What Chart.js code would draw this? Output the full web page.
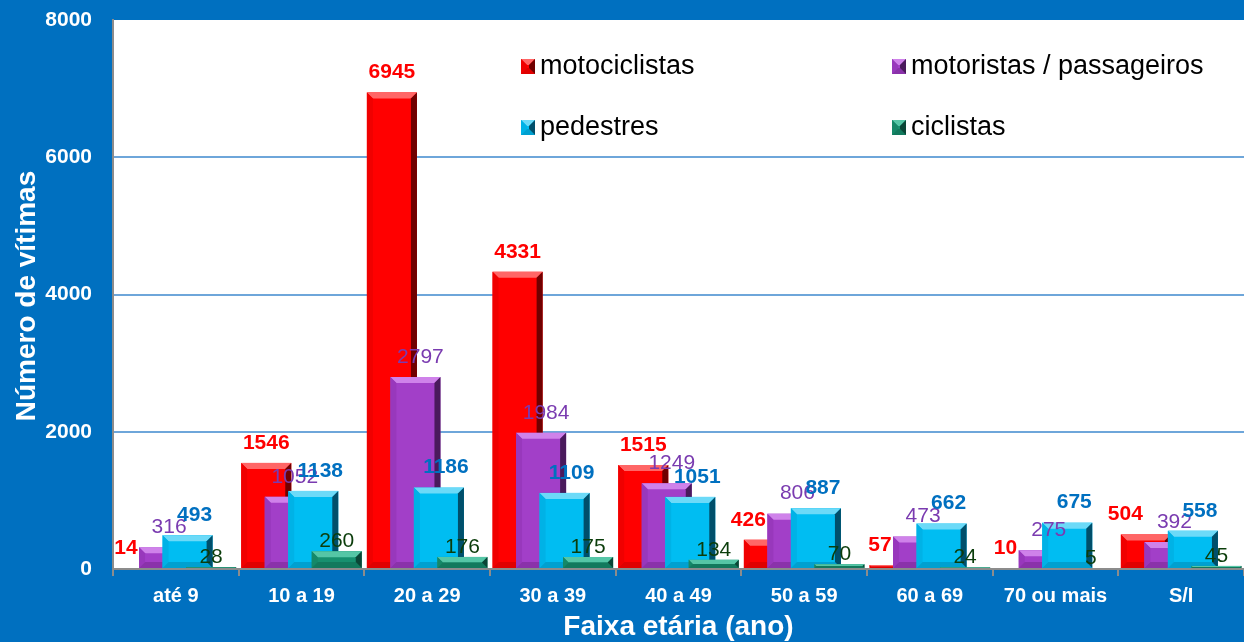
<!DOCTYPE html>
<html>
<head>
<meta charset="utf-8">
<script src="https://cdn.jsdelivr.net/npm/chart.js@4/dist/chart.umd.min.js"></script>
<style>
  html, body { margin: 0; padding: 0; background: #0070C0; }
  canvas { display: block; }
</style>
</head>
<body>
<canvas id="vitimasChart" width="1244" height="642"></canvas>
<script>
const ageGroups = ['até 9', '10 a 19', '20 a 29', '30 a 39', '40 a 49', '50 a 59', '60 a 69', '70 ou mais', 'S/I'];
const motociclistas = [14, 1546, 6945, 4331, 1515, 426, 57, 10, 504];
const motoristas = [316, 1052, 2797, 1984, 1249, 806, 473, 275, 392];
const pedestres = [493, 1138, 1186, 1109, 1051, 887, 662, 675, 558];
const ciclistas = [28, 260, 176, 175, 134, 70, 24, 5, 45];
const yTicks = [0, 2000, 4000, 6000, 8000];

const FONT = '"Liberation Sans", Arial, sans-serif';

// face, top highlight, right shadow, left edge, bottom edge
const palette = [
  { main: '#FF0000', light: '#FF6666', dark: '#700000', left: '#F00000', bottom: '#E00000', text: '#FF0000', bold: true },
  { main: '#A23FC8', light: '#CF82EA', dark: '#4A1A5C', left: '#9838BC', bottom: '#8A32AA', text: '#7A3BB0', bold: false },
  { main: '#00BDF2', light: '#6CDAF8', dark: '#004F6B', left: '#00B2E6', bottom: '#00A0D0', text: '#0070C0', bold: true },
  { main: '#17906F', light: '#55C6A6', dark: '#0A4536', left: '#158868', bottom: '#12795D', text: '#0B3D0B', bold: false }
];

function poly(ctx, pts, color) {
  ctx.beginPath();
  ctx.moveTo(pts[0][0], pts[0][1]);
  for (let i = 1; i < pts.length; i++) ctx.lineTo(pts[i][0], pts[i][1]);
  ctx.closePath();
  ctx.fillStyle = color;
  ctx.fill();
}

function bevelRect(ctx, left, top, w, h, c) {
  if (h <= 0) return;
  const b = Math.min(6, h / 2, w / 2);
  const r = left + w, bt = top + h;
  ctx.fillStyle = c.main;
  ctx.fillRect(left, top, w, h);
  poly(ctx, [[left, top], [r, top], [r - b, top + b], [left + b, top + b]], c.light);
  poly(ctx, [[left, top], [left + b, top + b], [left + b, bt - b], [left, bt]], c.left);
  poly(ctx, [[left, bt], [left + b, bt - b], [r - b, bt - b], [r, bt]], c.bottom);
  poly(ctx, [[r, top], [r, bt], [r - b, bt - b], [r - b, top + b]], c.dark);
}

const bevelBars = {
  id: 'bevelBars',
  beforeDraw(chart) {
    const { ctx, chartArea: a } = chart;
    ctx.save();
    ctx.fillStyle = '#0070C0';
    ctx.fillRect(0, 0, chart.width, chart.height);
    ctx.fillStyle = '#FFFFFF';
    ctx.fillRect(a.left, a.top, a.right - a.left, a.bottom - a.top);
    ctx.restore();
  },
  beforeDatasetsDraw(chart) {
    const ctx = chart.ctx;
    ctx.save();
    // first series at the back, last series in front
    chart.data.datasets.forEach((ds, i) => {
      chart.getDatasetMeta(i).data.forEach(bar => {
        bevelRect(ctx, bar.x - bar.width / 2, bar.y, bar.width, bar.base - bar.y, palette[i]);
      });
    });
    ctx.restore();
    return false;
  },
  afterDraw(chart) {
    const ctx = chart.ctx;
    const a = chart.chartArea;
    ctx.save();

    // value labels
    chart.data.datasets.forEach((ds, i) => {
      const c = palette[i];
      ctx.font = (c.bold ? 'bold ' : '') + '21px ' + FONT;
      ctx.fillStyle = c.text;
      ctx.textBaseline = 'middle';
      chart.getDatasetMeta(i).data.forEach((bar, j) => {
        const v = ds.data[j];
        let x = bar.x, y = bar.y - 20;
        ctx.textAlign = 'center';
        if (i === 0 && v < 600) {
          ctx.textAlign = 'right';
          x = bar.x - bar.width / 2 + 22;
        }
        if (i === 1) x += 5;
        if (i === 2) x += 7;
        if (i === 3) y = bar.y - 10;
        ctx.fillText(String(v), x, y);
      });
    });

    // legend inside the plot
    const legendPos = [[521, 66], [892, 66], [521, 127], [892, 127]];
    ctx.font = '27px ' + FONT;
    ctx.textAlign = 'left';
    ctx.textBaseline = 'middle';
    chart.data.datasets.forEach((ds, i) => {
      const [lx, ly] = legendPos[i];
      bevelRect(ctx, lx, ly - 7, 14, 15, palette[i]);
      ctx.fillStyle = '#000000';
      ctx.fillText(ds.label, lx + 19, ly + 1);
    });

    // axis titles
    ctx.fillStyle = '#FFFFFF';
    ctx.font = 'bold 28px ' + FONT;
    ctx.textAlign = 'center';
    ctx.textBaseline = 'middle';
    ctx.fillText('Faixa etária (ano)', (a.left + a.right) / 2, 627);
    ctx.translate(27, 296);
    ctx.rotate(-Math.PI / 2);
    ctx.fillText('Número de vítimas', 0, 0);
    ctx.restore();
  }
};

function createChart() {
  const ctx = document.getElementById('vitimasChart').getContext('2d');
  const series = [
    ['motociclistas', motociclistas],
    ['motoristas / passageiros', motoristas],
    ['pedestres', pedestres],
    ['ciclistas', ciclistas]
  ];
  new Chart(ctx, {
    type: 'bar',
    data: {
      labels: ageGroups,
      datasets: series.map(([label, data], i) => ({
        label: label,
        data: data,
        backgroundColor: palette[i].main,
        categoryPercentage: 0.748,
        barPercentage: 2.13
      }))
    },
    options: {
      responsive: false,
      devicePixelRatio: 1,
      animation: false,
      layout: { padding: { top: 20, right: 0, left: 0, bottom: 0 } },
      plugins: {
        legend: { display: false },
        tooltip: { enabled: false }
      },
      scales: {
        x: {
          afterFit: scale => { scale.height = 73; scale.paddingLeft = 0; scale.paddingRight = 0; },
          border: { color: '#8C8C8C', width: 2 },
          grid: {
            drawOnChartArea: false,
            drawTicks: true,
            tickLength: 7,
            color: '#8C8C8C',
            lineWidth: 2
          },
          ticks: {
            color: '#FFFFFF',
            font: { family: FONT, size: 20, weight: 'bold' },
            padding: 8,
            maxRotation: 0,
            autoSkip: false
          }
        },
        y: {
          min: yTicks[0],
          max: yTicks[yTicks.length - 1],
          afterFit: scale => { scale.width = 113; scale.paddingTop = 0; scale.paddingBottom = 0; },
          afterBuildTicks: scale => { scale.ticks = yTicks.map(v => ({ value: v })); },
          border: { color: '#8C8C8C', width: 2 },
          grid: {
            drawTicks: false,
            lineWidth: 2,
            color: c => (c.tick.value === yTicks[0] || c.tick.value === yTicks[yTicks.length - 1]) ? 'rgba(0,0,0,0)' : '#6EA6DA'
          },
          ticks: {
            color: '#FFFFFF',
            font: { family: FONT, size: 21, weight: 'bold' },
            padding: 21,
            callback: v => String(v)
          }
        }
      }
    },
    plugins: [bevelBars]
  });
}

createChart();
</script>
</body>
</html>
